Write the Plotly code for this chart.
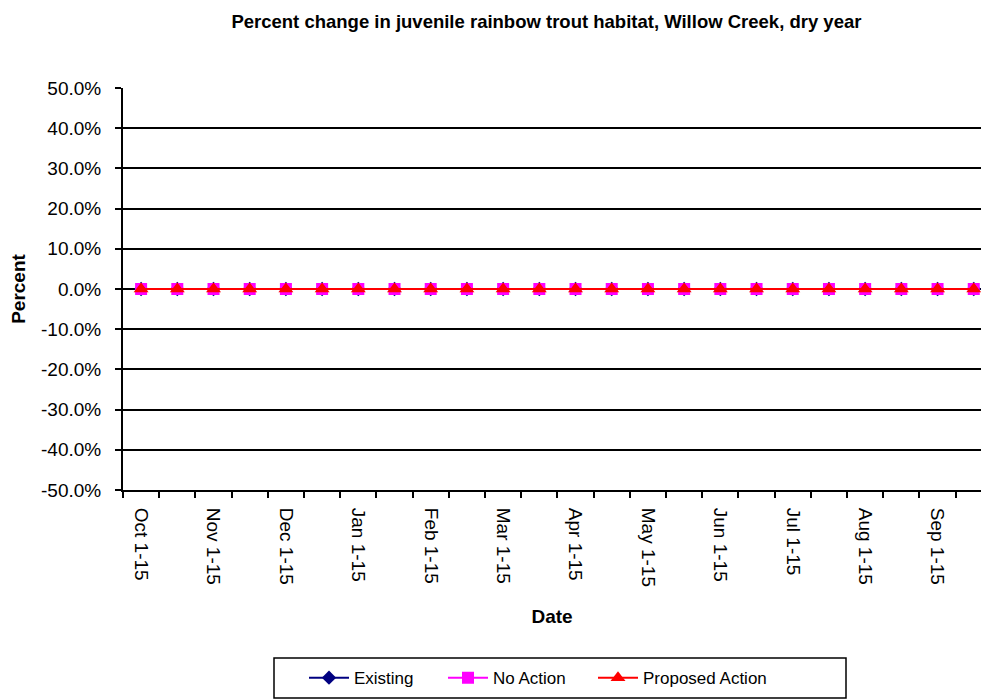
import plotly.graph_objects as go

categories = ["Oct 1-15", "Oct 16-31", "Nov 1-15", "Nov 16-30", "Dec 1-15", "Dec 16-31",
              "Jan 1-15", "Jan 16-31", "Feb 1-15", "Feb 16-28", "Mar 1-15", "Mar 16-31",
              "Apr 1-15", "Apr 16-30", "May 1-15", "May 16-31", "Jun 1-15", "Jun 16-30",
              "Jul 1-15", "Jul 16-31", "Aug 1-15", "Aug 16-31", "Sep 1-15", "Sep 16-30"]
existing = [0.0] * 24
no_action = [0.0] * 24
proposed_action = [0.0] * 24
y_ticks = [-0.5, -0.4, -0.3, -0.2, -0.1, 0.0, 0.1, 0.2, 0.3, 0.4, 0.5]
y_ticktext = ["-50.0%", "-40.0%", "-30.0%", "-20.0%", "-10.0%", "0.0%",
              "10.0%", "20.0%", "30.0%", "40.0%", "50.0%"]

xs = list(range(len(categories)))
label_idx = [i for i in xs if i % 2 == 0]

fig = go.Figure()
fig.add_trace(go.Scatter(x=xs, y=existing, name="Existing", mode="lines+markers",
                         line=dict(color="#000080", width=2), legend="legend",
                         marker=dict(symbol="diamond", size=11, color="#000080")))
fig.add_trace(go.Scatter(x=xs, y=no_action, name="No Action", mode="lines+markers",
                         line=dict(color="#FF00FF", width=2), legend="legend2",
                         marker=dict(symbol="square", size=12, color="#FF00FF")))
fig.add_trace(go.Scatter(x=xs, y=proposed_action, name="Proposed Action", mode="lines+markers",
                         line=dict(color="#FF0000", width=2), legend="legend3",
                         marker=dict(symbol="triangle-up", size=13, color="#FF0000")))

font = "Liberation Sans, Arial, sans-serif"


def leg(px):
    return dict(orientation="h", x=(px - 5 - 123) / 858, xanchor="left", y=-0.468,
                yanchor="middle", borderwidth=0, bgcolor="rgba(0,0,0,0)",
                font=dict(size=17, family=font), itemwidth=40)


fig.update_layout(
    width=981, height=700,
    margin=dict(l=123, r=0, t=88, b=210, autoexpand=False),
    paper_bgcolor="white", plot_bgcolor="white",
    font=dict(family=font, color="black", size=17),
    title=dict(text="<b>Percent change in juvenile rainbow trout habitat, Willow Creek, dry year</b>",
               x=0.557, xanchor="center", y=0.978, yanchor="top",
               font=dict(size=18.5, family=font)),
    showlegend=True,
    legend=leg(309), legend2=leg(448), legend3=leg(598),
    shapes=[dict(type="rect", xref="paper", yref="paper",
                 x0=(274 - 123) / 858, x1=(846 - 123) / 858,
                 y0=(490 - 698) / 402, y1=(490 - 658) / 402,
                 line=dict(color="black", width=1.5), fillcolor="rgba(0,0,0,0)", layer="below")],
    xaxis=dict(
        range=[-0.5, 23.2], tickmode="array", tickvals=label_idx,
        ticktext=[categories[i] for i in label_idx],
        tickangle=90, ticks="", showgrid=False, zeroline=False,
        showline=True, linecolor="black", linewidth=2,
        tickfont=dict(size=19), ticklabelstandoff=12,
        minor=dict(tickmode="array", tickvals=[i - 0.5 for i in xs] + [23.5],
                   ticks="outside", ticklen=6, tickcolor="black", tickwidth=1.5, showgrid=False),
        title=dict(text="<b>Date</b>", font=dict(size=19), standoff=24),
    ),
    yaxis=dict(
        range=[-0.5, 0.5], tickmode="array", tickvals=y_ticks, ticktext=y_ticktext,
        showgrid=True, gridcolor="black", gridwidth=1.5, zeroline=False,
        showline=True, linecolor="black", linewidth=2,
        ticks="outside", ticklen=6, tickcolor="black", tickwidth=1.5,
        tickfont=dict(size=19), ticklabelstandoff=10,
        title=dict(text="<b>Percent</b>", font=dict(size=19), standoff=10),
    ),
)

fig.write_html("out.html", config={"displayModeBar": False},
               post_script="document.body.style.margin='0';")
